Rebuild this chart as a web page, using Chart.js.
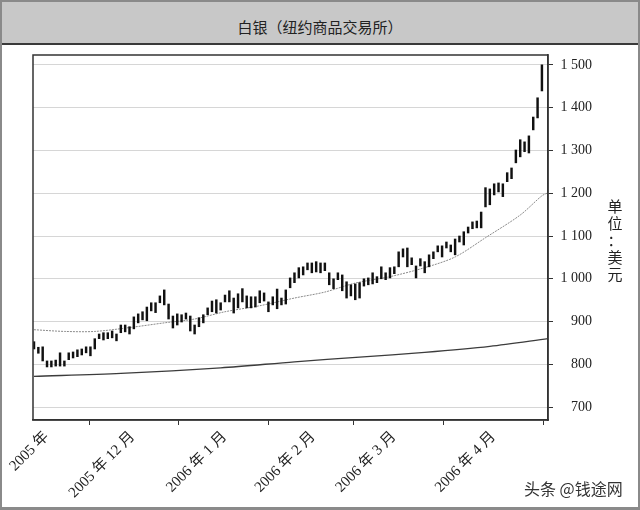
<!DOCTYPE html>
<html>
<head>
<meta charset="utf-8">
<script src="https://cdn.jsdelivr.net/npm/chart.js@4.4.1/dist/chart.umd.min.js"></script>
<style>
html, body { margin: 0; padding: 0; background: #fff; }
#frame { position: relative; width: 640px; height: 510px; overflow: hidden; background: #fff; }
#head { position: absolute; left: 0; top: 0; width: 640px; height: 43px; background: #c8c8c8; border-bottom: 2px solid #3a3a3a; }
#title { position: absolute; left: 0; width: 640px; top: 17px; text-align: center; font: 15px "Noto Sans CJK SC"; line-height: 20px; color: #222; }
#edge { position: absolute; left: 0; top: 0; width: 640px; height: 510px; box-sizing: border-box; border: 2px solid #8a8a8a; border-bottom-width: 3px; pointer-events: none; }
#chart { position: absolute; left: 0; top: 0; }
#unit { position: absolute; left: 606px; top: 197px; width: 18px; text-align: center; font: 15px "Noto Sans CJK SC"; line-height: 17px; color: #222; }
#mark { position: absolute; left: 524px; top: 478px; font: 16px "Noto Sans CJK SC"; line-height: 20px; color: #333; }
</style>
</head>
<body>
<div id="frame">
  <div id="head"></div>
  <div id="title">白银（纽约商品交易所）</div>
  <canvas id="chart" width="640" height="510"></canvas>
  <div id="unit">单<br>位<br>：<br>美<br>元</div>
  <div id="mark">头条 @钱途网</div>
  <div id="edge"></div>
</div>
<script>
// Données (une barre par séance)
const xLabels = ['2005 年', '2005 年 12 月', '2006 年 1 月', '2006 年 2 月', '2006 年 3 月', '2006 年 4 月'];
const xTickPos = [2.9, 22.7, 43.9, 64.3, 82.9, 105.8];
const yTicks = [700, 800, 900, 1000, 1100, 1200, 1300, 1400, 1500];

const highs = [
  853, 840, 841, 808, 808, 810, 827, 808, 827, 829,
  834, 836, 841, 841, 860, 871, 874, 874, 878, 871,
  892, 892, 888, 911, 918, 923, 934, 944, 944, 960,
  974, 941, 913, 918, 916, 920, 913, 892, 909, 916,
  932, 948, 951, 944, 962, 972, 955, 965, 977, 960,
  958, 958, 972, 967, 946, 958, 976, 955, 974, 1002,
  1014, 1026, 1028, 1037, 1037, 1040, 1037, 1037, 1014, 1000,
  1014, 1009, 993, 986, 988, 991, 1000, 1002, 1014, 1005,
  1028, 1014, 1026, 1028, 1063, 1070, 1072, 1049, 1030, 1047,
  1040, 1056, 1063, 1077, 1077, 1086, 1079, 1093, 1100, 1110,
  1121, 1133, 1135, 1156, 1213, 1210, 1222, 1224, 1222, 1248,
  1259, 1301, 1325, 1320, 1334, 1378, 1423, 1500
];
const lows = [
  836, 826, 808, 794, 794, 796, 796, 796, 811, 815,
  818, 822, 827, 820, 836, 860, 857, 860, 862, 855,
  874, 876, 871, 883, 897, 904, 902, 925, 921, 944,
  939, 906, 885, 892, 899, 906, 878, 871, 888, 897,
  916, 923, 920, 927, 946, 946, 920, 932, 946, 932,
  932, 934, 944, 948, 923, 939, 930, 939, 941, 979,
  991, 1002, 1009, 1021, 1014, 1016, 1014, 1019, 986, 977,
  998, 972, 955, 960, 951, 955, 983, 986, 988, 991,
  1000, 998, 1002, 1012, 1028, 1051, 1028, 1033, 1002, 1030,
  1014, 1028, 1047, 1063, 1051, 1072, 1063, 1056, 1086, 1079,
  1107, 1117, 1119, 1119, 1168, 1173, 1196, 1203, 1192, 1227,
  1234, 1271, 1285, 1297, 1294, 1348, 1376, 1439
];

// Moyennes mobiles relevées à quelques positions
const fastX = [0, 7, 14, 22, 30, 37, 44, 52, 60, 67, 74, 82, 90, 97, 104, 112, 117, 118.4];
const fastY = [881, 877, 877, 886, 897, 906, 923, 937, 955, 969, 990, 1005, 1026, 1051, 1096, 1149, 1194, 1201];
const slowX = [0, 20, 43, 60, 75, 90, 105, 118.4];
const slowY = [772, 779, 792, 806, 817, 828, 842, 860];

const serif = '"Liberation Serif", "Noto Sans CJK SC", serif';

// Cadre autour de la zone de tracé
const boxPlugin = {
    id: 'box',
    afterDraw(chart) {
        const a = chart.chartArea;
        const ctx = chart.ctx;
        ctx.save();
        ctx.strokeStyle = '#333';
        ctx.lineWidth = 1.5;
        ctx.strokeRect(a.left, a.top, a.right - a.left, a.bottom - a.top);
        ctx.restore();
    }
};

new Chart(document.getElementById('chart'), {
    type: 'bar',
    data: {
        datasets: [
            {
                type: 'bar',
                data: highs.map((h, i) => ({ x: i, y: [lows[i], h] })),
                backgroundColor: '#111',
                barThickness: 1.8,
                order: 1
            },
            {
                type: 'line',
                data: fastX.map((x, i) => ({ x: x, y: fastY[i] })),
                borderColor: '#8a8a8a',
                borderWidth: 1,
                borderDash: [2, 1],
                pointRadius: 0,
                tension: 0.3,
                order: 2
            },
            {
                type: 'line',
                data: slowX.map((x, i) => ({ x: x, y: slowY[i] })),
                borderColor: '#3c3c3c',
                borderWidth: 1.3,
                pointRadius: 0,
                tension: 0.3,
                order: 3
            }
        ]
    },
    options: {
        responsive: false,
        animation: false,
        layout: { padding: { left: 33, top: 55, right: 48, bottom: 0 } },
        plugins: {
            legend: { display: false },
            tooltip: { enabled: false }
        },
        scales: {
            x: {
                type: 'linear',
                min: -0.23,
                max: 118.4,
                offset: false,
                afterBuildTicks: scale => {
                    scale.ticks = xTickPos.map(v => ({ value: v }));
                },
                afterFit: scale => {
                    scale.height = 90;
                    scale.paddingLeft = 0;
                    scale.paddingRight = 0;
                },
                grid: {
                    drawOnChartArea: false,
                    tickLength: 5,
                    tickColor: '#333'
                },
                border: { color: '#333', width: 1.5 },
                ticks: {
                    autoSkip: false,
                    minRotation: 45,
                    maxRotation: 45,
                    padding: 3,
                    color: '#222',
                    font: { family: serif, size: 15 },
                    callback: (v, i) => xLabels[i]
                }
            },
            y: {
                position: 'right',
                min: 670,
                max: 1523,
                afterBuildTicks: scale => {
                    scale.ticks = yTicks.map(v => ({ value: v }));
                },
                afterFit: scale => {
                    scale.width = 44;
                },
                grid: {
                    color: '#d6d6d6',
                    lineWidth: 1,
                    tickLength: 5,
                    tickColor: '#333'
                },
                border: { color: '#333', width: 1.5 },
                ticks: {
                    crossAlign: 'far',
                    padding: 5,
                    color: '#222',
                    font: { family: serif, size: 14 },
                    callback: v => v >= 1000 ? Math.floor(v / 1000) + ' ' + String(v % 1000).padStart(3, '0') : String(v)
                }
            }
        }
    },
    plugins: [boxPlugin]
});
</script>
</body>
</html>
